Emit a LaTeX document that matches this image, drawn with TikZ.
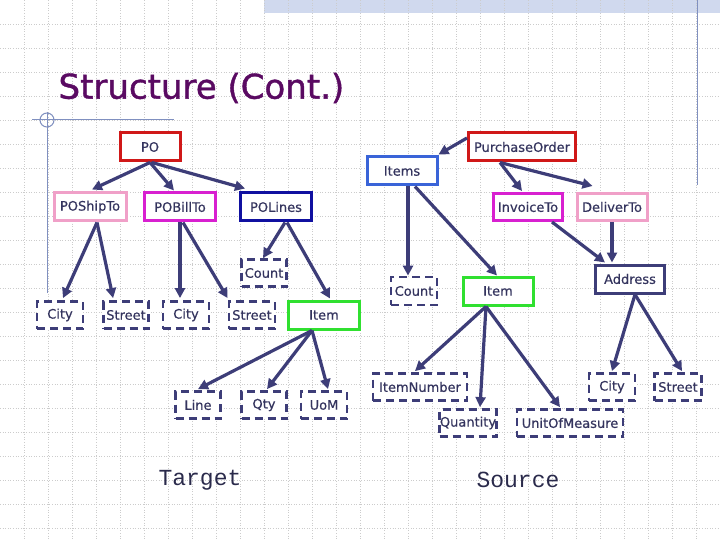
\documentclass[tikz,border=0pt]{standalone}
\usepackage{fontspec}
\setmainfont{DejaVu Sans}
\newfontfamily\monof{Liberation Mono}
\newfontfamily\boxf[FakeBold=0.5]{DejaVu Sans}
\newfontfamily\titlef[FakeBold=1.2]{DejaVu Sans}
\usetikzlibrary{arrows.meta,calc}
\definecolor{navy}{HTML}{3D3D78}
\definecolor{txt}{HTML}{34345E}
\definecolor{titlecol}{HTML}{5A0A62}
\definecolor{cred}{HTML}{D01818}
\definecolor{cblue}{HTML}{3A64D8}
\definecolor{cpink}{HTML}{F0A0C8}
\definecolor{cmag}{HTML}{D820D0}
\definecolor{cdblue}{HTML}{1010A0}
\definecolor{cgreen}{HTML}{30E030}
\definecolor{deco}{HTML}{8090C0}
\definecolor{band}{HTML}{D0D9EE}
\tikzset{
  box/.style={draw, fill=white, line width=3pt, inner sep=0pt, text=txt,
    font=\boxf\fontsize{13}{15}\selectfont},
  dbox/.style={box, draw=navy, dash pattern=on 8pt off 5pt, line width=2.8pt},
  arr/.style={draw=navy, line width=3.2pt, -{Triangle[length=10pt,width=10pt]}},
  gridline/.style={draw=gray!40, dotted, line width=0.6pt}
}
\begin{document}
\begin{tikzpicture}[x=1pt,y=-1pt]
\useasboundingbox (0,0) rectangle (720,540);
\fill[white] (0,0) rectangle (720,540);
\fill[band] (264,0) rectangle (720,13);
\foreach \i in {24,48,...,696} \draw[gridline] (\i,0) -- (\i,540);
\foreach \j in {24,48,...,528} \draw[gridline] (0,\j) -- (720,\j);
% decorations
\draw[deco, line width=1pt] (32,120) -- (174,120);
\draw[deco, line width=1pt] (47,112) -- (47,293);
\draw[deco, line width=1pt] (47,120) circle (7);
\draw[deco, line width=1pt] (697,0) -- (697,185);
% title
\node[text=titlecol, font=\titlef\fontsize{34}{40}\selectfont, anchor=west] (title) at (55,88) {Structure (Cont.)};
% nodes
\node[box, draw=cred, minimum width=60pt, minimum height=28pt] (PO) at (150,147) {PO};
\node[box, draw=cred, minimum width=107pt, minimum height=28pt] (purch) at (522,147) {PurchaseOrder};
\node[box, draw=cblue, minimum width=70pt, minimum height=28pt] (items) at (402,171) {Items};
\node[box, draw=cpink, minimum width=72pt, minimum height=28pt] (ship) at (90,207) {POShipTo};
\node[box, draw=cmag, minimum width=71pt, minimum height=28pt] (bill) at (180,207) {POBillTo};
\node[box, draw=cdblue, minimum width=71pt, minimum height=28pt] (lines) at (276,207) {POLines};
\node[box, draw=cmag, minimum width=69pt, minimum height=27pt] (invoice) at (528,207) {InvoiceTo};
\node[box, draw=cpink, minimum width=70pt, minimum height=27pt] (deliver) at (612,207) {DeliverTo};
\node[dbox, minimum width=45pt, minimum height=27pt] (countL) at (264,273) {Count};
\node[dbox, minimum width=46pt, minimum height=27pt] (city1) at (60,315) {City};
\node[dbox, minimum width=45pt, minimum height=27pt] (street1) at (126,315) {Street};
\node[dbox, minimum width=46pt, minimum height=27pt] (city2) at (186,315) {City};
\node[dbox, minimum width=46pt, minimum height=27pt] (street2) at (252,315) {Street};
\node[box, draw=cgreen, minimum width=71pt, minimum height=28pt] (itemL) at (324,315) {Item};
\node[dbox, minimum width=46pt, minimum height=28pt] (countR) at (414,291) {Count};
\node[box, draw=cgreen, minimum width=70pt, minimum height=28pt] (itemR) at (498,291) {Item};
\node[box, draw=navy, minimum width=69pt, minimum height=28pt] (address) at (630,279) {Address};
\node[dbox, minimum width=45pt, minimum height=27pt] (line) at (198,405) {Line};
\node[dbox, minimum width=45pt, minimum height=27pt] (qty) at (264,405) {Qty};
\node[dbox, minimum width=46pt, minimum height=27pt] (uom) at (324,405) {UoM};
\node[dbox, minimum width=94pt, minimum height=27pt] (itemnum) at (420,387) {ItemNumber};
\node[dbox, minimum width=57pt, minimum height=27pt] (quantity) at (468,423) {Quantity};
\node[dbox, minimum width=106pt, minimum height=27pt] (uom2) at (570,423) {UnitOfMeasure};
\node[dbox, minimum width=46pt, minimum height=27pt] (cityR) at (612,387) {City};
\node[dbox, minimum width=47pt, minimum height=27pt] (streetR) at (678,387) {Street};
\node[text=txt!80!black, font=\monof\fontsize{23}{26}\selectfont] (target) at (200,480) {Target};
\node[text=txt!80!black, font=\monof\fontsize{23}{26}\selectfont] (source) at (518,480) {Source};
% connectors
\draw[arr] (PO.south) -- ($(ship.north)+(2,-2)$);
\draw[arr] (PO.south) -- ($(bill.north)+(-6,-1)$);
\draw[arr] ($(PO.south)+(2,0)$) -- ($(lines.north west)+(6,-3)$);
\draw[arr] ($(purch.west)+(0,-9)$) -- ($(items.north east)+(0,-1)$);
\draw[arr] ($(purch.south)+(-22,0)$) -- ($(invoice.north)+(-6,-1)$);
\draw[arr] ($(purch.south)+(-22,0)$) -- ($(deliver.north west)+(17,-6)$);
\draw[arr] ($(items.south)+(6,0)$) -- ($(countR.north)+(-6,0)$);
\draw[arr] ($(items.south)+(13,0)$) -- ($(itemR.north)+(-1,0)$);
\draw[arr] ($(invoice.south east)+(-12,0)$) -- ($(address.north west)+(11,-1)$);
\draw[arr] (deliver.south) -- ($(address.north)+(-18,-1)$);
\draw[arr] ($(address.south)+(5,0)$) -- ($(cityR.north)+(0,-1)$);
\draw[arr] ($(address.south)+(5,0)$) -- ($(streetR.north)+(4,-1)$);
\draw[arr] ($(itemR.south)+(-12,0)$) -- ($(itemnum.north)+(-5,-1)$);
\draw[arr] ($(itemR.south)+(-12,0)$) -- ($(quantity.north)+(12,-1)$);
\draw[arr] ($(itemR.south)+(-12,0)$) -- ($(uom2.north)+(-10,-1)$);
\draw[arr] ($(ship.south)+(7,0)$) -- ($(city1.north)+(3,-2)$);
\draw[arr] ($(ship.south)+(7,0)$) -- ($(street1.north west)+(11,-2)$);
\draw[arr] (bill.south) -- ($(city2.north)+(-6,-2)$);
\draw[arr] ($(bill.south)+(3,0)$) -- ($(street2.north west)+(0,-2)$);
\draw[arr] ($(lines.south)+(9,0)$) -- ($(countL.north)+(-1,0)$);
\draw[arr] ($(lines.south)+(11,0)$) -- ($(itemL.north)+(6,-1)$);
\draw[arr] ($(itemL.south)+(-12,0)$) -- ($(line.north)+(0,-1)$);
\draw[arr] ($(itemL.south)+(-12,0)$) -- ($(qty.north)+(3,-1)$);
\draw[arr] ($(itemL.south)+(-12,0)$) -- ($(uom.north)+(4,-1)$);
\end{tikzpicture}
\end{document}
